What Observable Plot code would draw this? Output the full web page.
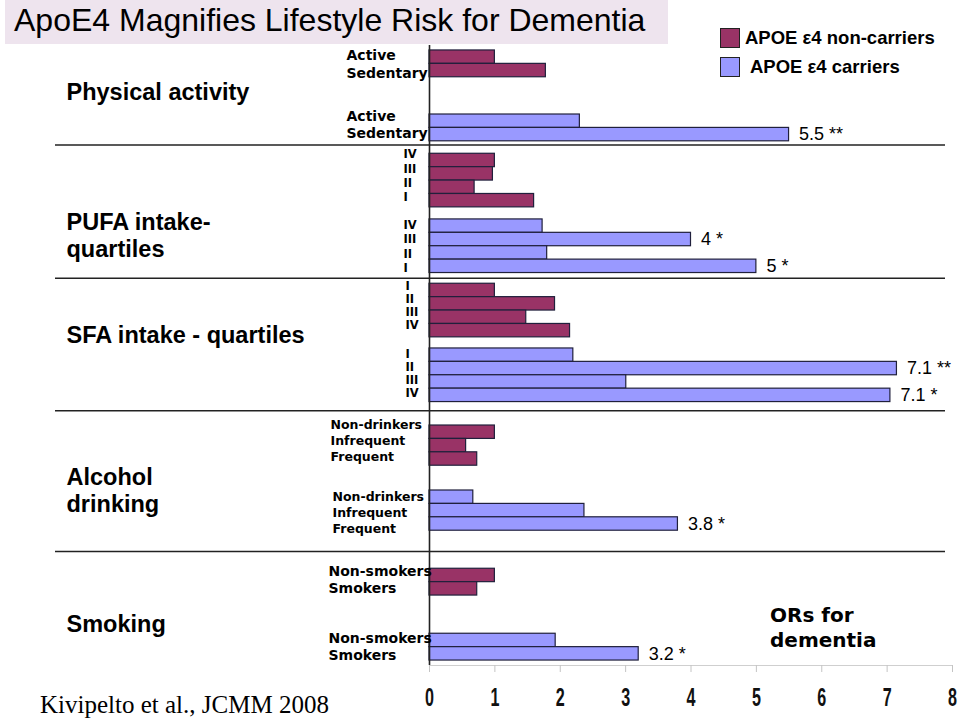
<!DOCTYPE html>
<html>
<head>
<meta charset="utf-8">
<script src="https://cdn.jsdelivr.net/npm/d3@7"></script>
<script src="https://cdn.jsdelivr.net/npm/@observablehq/plot@0.6"></script>
<style>
  html, body { margin: 0; padding: 0; background: #fff; }
  #wrap { position: relative; width: 959px; height: 719px; overflow: hidden; font-family: "Liberation Sans", Arial, sans-serif; }
  #chart { position: absolute; left: 0; top: 0; }
  #chart svg { background: transparent; }
  #title { position: absolute; left: 5px; top: 0; width: 663px; height: 44px; background: #eee4ee; font-size: 32px; line-height: 40px; padding-left: 9px; box-sizing: border-box; color: #000; white-space: nowrap; z-index: 2; }
  .sw { position: absolute; width: 18px; height: 18px; border: 1px solid #222; z-index: 2; }
  .lg { position: absolute; font-size: 18.5px; font-weight: bold; color: #000; white-space: nowrap; z-index: 2; line-height: 20px; }
  #ors { position: absolute; left: 770px; top: 603px; font-family: "DejaVu Sans", sans-serif; font-weight: bold; font-size: 20px; line-height: 25px; color: #000; z-index: 2; }
  #cite { position: absolute; left: 40px; top: 690px; font-family: "Liberation Serif", "Times New Roman", serif; font-size: 25px; line-height: 30px; color: #000; white-space: nowrap; z-index: 2; }
  #chart g[aria-label="x-axis tick label"] text { font-family: "Liberation Sans", Arial, sans-serif; font-weight: bold; font-size: 26px; }
</style>
</head>
<body>
<div id="wrap">
  <div id="chart"></div>
</div>
<script>
// ---------------- data ----------------
const title = "ApoE4 Magnifies Lifestyle Risk for Dementia";
const seriesNames = ["APOE ε4 non-carriers", "APOE ε4 carriers"];
const groupNames = ["Physical activity", "PUFA intake-\nquartiles", "SFA intake - quartiles", "Alcohol\ndrinking", "Smoking"];

const paLevels = ["Active", "Sedentary"];
const paNonCarriers = [1.0, 1.78];
const paCarriers = [2.3, 5.5];
const paNotes = [null, "5.5 **"];

const pufaLevels = ["IV", "III", "II", "I"];
const pufaNonCarriers = [1.0, 0.97, 0.69, 1.6];
const pufaCarriers = [1.73, 4.0, 1.8, 5.0];
const pufaNotes = [null, "4 *", null, "5 *"];

const sfaLevels = ["I", "II", "III", "IV"];
const sfaNonCarriers = [1.0, 1.92, 1.48, 2.15];
const sfaCarriers = [2.2, 7.15, 3.01, 7.05];
const sfaNotes = [null, "7.1 **", null, "7.1 *"];

const alcLevels = ["Non-drinkers", "Infrequent", "Frequent"];
const alcNonCarriers = [1.0, 0.56, 0.73];
const alcCarriers = [0.67, 2.37, 3.8];
const alcNotes = [null, null, "3.8 *"];

const smkLevels = ["Non-smokers", "Smokers"];
const smkNonCarriers = [1.0, 0.73];
const smkCarriers = [1.93, 3.2];
const smkNotes = [null, "3.2 *"];

const xTicks = [0, 1, 2, 3, 4, 5, 6, 7, 8];
const sideNote = "ORs for\ndementia";
const citation = "Kivipelto et al., JCMM 2008";

// ---------------- layout (bar slots, gaps in bar heights) ----------------
const colors = ["#993366", "#9999ff"];
const slotPx = 13.4;
const groupGap = [0, 0.93, 0.8, 1.75, 2.84];
const midGap = [2.78, 0.9, 0.83, 1.85, 2.85];
const sepFrac = [0.33, 0.54, 0.39, 0.56];
const labelLeft = [[346, 346], [403, 403], [405, 405], [330, 332], [328, 328]];
const labelSize = [14, 11.5, 11.5, 12.5, 14];
const labelSpacing = [1.3, 1.07, 0.96, 1.19, 1.27];
const labelShiftPx = [[0.6, -2.9], [-4.5, 0.7], [-4.7, -1.4], [-5, 2], [-2.5, 0]];
const groupLabelShift = [-0.33, 1.6, -0.63, 0.87, 0.64];

const groups = [
  {levels: paLevels, nc: paNonCarriers, c: paCarriers, notes: paNotes},
  {levels: pufaLevels, nc: pufaNonCarriers, c: pufaCarriers, notes: pufaNotes},
  {levels: sfaLevels, nc: sfaNonCarriers, c: sfaCarriers, notes: sfaNotes},
  {levels: alcLevels, nc: alcNonCarriers, c: alcCarriers, notes: alcNotes},
  {levels: smkLevels, nc: smkNonCarriers, c: smkCarriers, notes: smkNotes}
];

const rows = [];
const seps = [];
const groupRows = [];
let pos = 0, prevEnd = 0;
groups.forEach((g, gi) => {
  pos += groupGap[gi];
  if (gi > 0) seps.push(prevEnd + groupGap[gi] * sepFrac[gi - 1]);
  const start = pos;
  [g.nc, g.c].forEach((vals, si) => {
    const n = g.levels.length;
    const center = pos + n / 2;
    g.levels.forEach((lv, i) => rows.push({
      group: gi, series: seriesNames[si], si, level: lv, value: vals[i],
      y1: pos + i, y2: pos + i + 1, note: si === 1 ? g.notes[i] : null,
      ly: center + (i - (n - 1) / 2) * labelSpacing[gi] + labelShiftPx[gi][si] / slotPx
    }));
    pos += n;
    if (si === 0) pos += midGap[gi];
  });
  groupRows.push({name: groupNames[gi], y: (start + pos) / 2 + groupLabelShift[gi]});
  prevEnd = pos;
});
const yBottom = pos + 0.37;
const yTop = -0.37;

const W = 959, H = 719, mL = 429, mR = 7, mT = 45, mB = 54;

const marks = [
  Plot.ruleY([yBottom], {stroke: "#cfcfcf", strokeWidth: 1}),
  Plot.axisX(xTicks, {anchor: "bottom", label: null, tickSize: 7, tickPadding: 15, stroke: "#c4c4c4", fill: "#111", tickFormat: d => String(d)}),
  Plot.rect(rows, {x1: 0, x2: "value", y1: "y1", y2: "y2", fill: "series", stroke: "#20203c", strokeWidth: 1.2}),
  Plot.ruleX([0], {stroke: "#222", strokeWidth: 1.6}),
  Plot.text(rows.filter(d => d.note), {x: "value", y: d => (d.y1 + d.y2) / 2, text: "note", dx: 10, textAnchor: "start", fontSize: 18, fill: "#000", fontFamily: "Liberation Sans, Arial, sans-serif"}),
  Plot.text(groupRows, {frameAnchor: "left", dx: 66 - mL, y: "y", text: "name", textAnchor: "start", fontSize: 23.5, fontWeight: "bold", lineHeight: 1.15, fill: "#000", fontFamily: "Liberation Sans, Arial, sans-serif"})
];
groups.forEach((g, gi) => {
  [0, 1].forEach(si => {
    marks.push(Plot.text(rows.filter(d => d.group === gi && d.si === si), {
      frameAnchor: "left", dx: labelLeft[gi][si] - mL, y: "ly", text: "level",
      textAnchor: "start", fontSize: labelSize[gi], fontWeight: "bold", fill: "#000",
      fontFamily: "DejaVu Sans, Verdana, sans-serif"
    }));
  });
});

const plot = Plot.plot({
  width: W, height: H,
  marginLeft: mL, marginRight: mR, marginTop: mT, marginBottom: mB,
  style: {background: "transparent", overflow: "visible"},
  x: {domain: [0, 8], axis: null, label: null},
  y: {domain: [yBottom, yTop], axis: null},
  color: {domain: seriesNames, range: colors},
  marks
});

// narrow, tall tick digits as in the reference
d3.select(plot).selectAll('g[aria-label="x-axis tick label"] text').each(function () {
  const tr = this.getAttribute("transform") || "";
  this.setAttribute("transform", tr + " scale(0.62,1)");
});

const ys = plot.scale("y");
d3.select(plot).append("g").attr("aria-label", "separators")
  .selectAll("line").data(seps).join("line")
  .attr("x1", 55).attr("x2", 945)
  .attr("y1", d => ys.apply(d)).attr("y2", d => ys.apply(d))
  .attr("stroke", "#222").attr("stroke-width", 1.5);

document.getElementById("chart").appendChild(plot);

const wrap = document.getElementById("wrap");
const t = document.createElement("div"); t.id = "title"; t.textContent = title; wrap.appendChild(t);
const legTop = [28, 57], legTextLeft = [745, 750];
seriesNames.forEach((s, i) => {
  const sw = document.createElement("div"); sw.className = "sw";
  sw.style.left = "720px"; sw.style.top = legTop[i] + "px"; sw.style.background = colors[i];
  wrap.appendChild(sw);
  const lg = document.createElement("div"); lg.className = "lg"; lg.textContent = s;
  lg.style.left = legTextLeft[i] + "px"; lg.style.top = (legTop[i]) + "px";
  wrap.appendChild(lg);
});
const ors = document.createElement("div"); ors.id = "ors"; ors.innerHTML = sideNote.split("\n").join("<br>"); wrap.appendChild(ors);
const cite = document.createElement("div"); cite.id = "cite"; cite.textContent = citation; wrap.appendChild(cite);
</script>
</body>
</html>
